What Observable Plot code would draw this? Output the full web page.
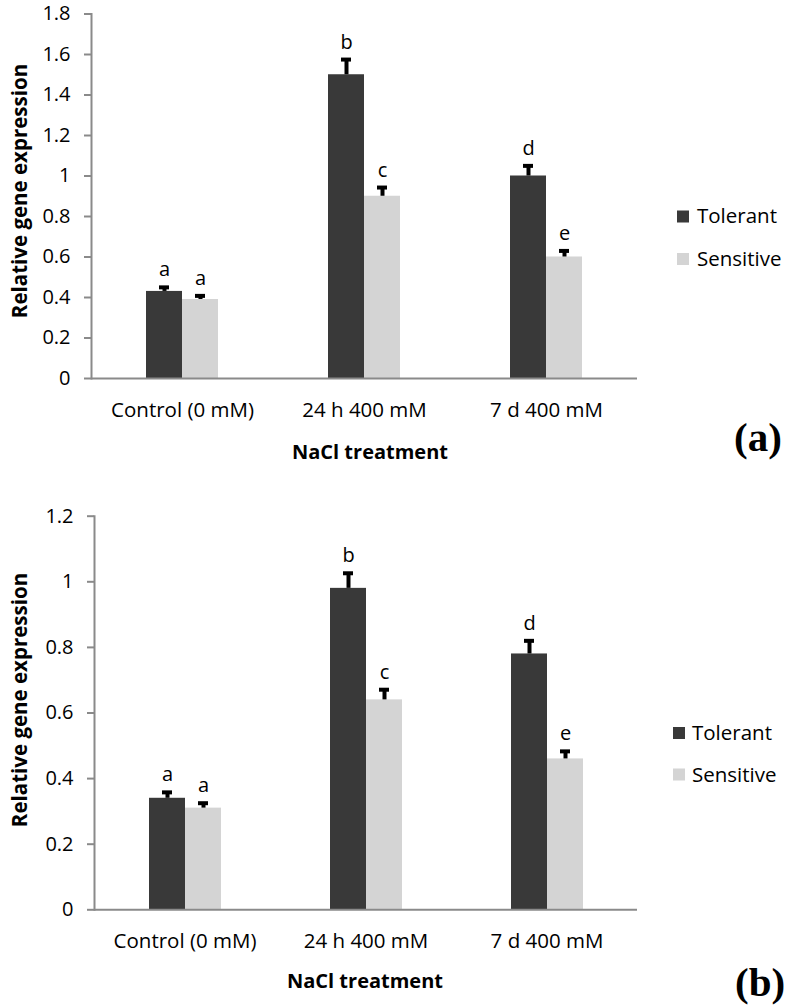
<!DOCTYPE html>
<html><head><meta charset="utf-8">
<script src="https://cdn.jsdelivr.net/npm/d3@7"></script>
<script src="https://cdn.jsdelivr.net/npm/@observablehq/plot@0.6"></script>
<style>
body{margin:0;background:#fff;}
#root{position:relative;width:789px;height:1008px;overflow:hidden;background:#fff;}
#root svg.plot{position:absolute;left:0;}
#overlay{position:absolute;left:0;top:0;pointer-events:none;}
</style></head><body><div id="root"></div>
<script>
// ---- data ----
const categories = ["Control (0 mM)", "24 h 400 mM", "7 d 400 mM"];
const series = ["Tolerant", "Sensitive"];
const colors = ["#393939", "#d4d4d4"];

// panel (a)
const aTolerant = [0.43, 1.50, 1.00];
const aSensitive = [0.39, 0.90, 0.60];
const aTolerantErr = [0.02, 0.075, 0.05];
const aSensitiveErr = [0.018, 0.043, 0.03];
const aTolerantLetters = ["a", "b", "d"];
const aSensitiveLetters = ["a", "c", "e"];
const aYTicks = [0, 0.2, 0.4, 0.6, 0.8, 1, 1.2, 1.4, 1.6, 1.8];

// panel (b)
const bTolerant = [0.34, 0.98, 0.78];
const bSensitive = [0.31, 0.64, 0.46];
const bTolerantErr = [0.018, 0.046, 0.04];
const bSensitiveErr = [0.015, 0.031, 0.023];
const bTolerantLetters = ["a", "b", "d"];
const bSensitiveLetters = ["a", "c", "e"];
const bYTicks = [0, 0.2, 0.4, 0.6, 0.8, 1, 1.2];

const yTitle = "Relative gene expression";
const xTitle = "NaCl treatment";

function rows(tol, sen, tolErr, senErr, tolL, senL) {
  const out = [];
  categories.forEach((c, i) => {
    out.push({category: c, series: series[0], value: tol[i], err: tolErr[i], letter: tolL[i]});
    out.push({category: c, series: series[1], value: sen[i], err: senErr[i], letter: senL[i]});
  });
  return out;
}

const AXIS = "#8a8a8a";
const FONT = "'Open Sans', sans-serif";

function panel(data, ticks, opts) {
  const top = (d) => d.value + d.err;
  const chart = Plot.plot({
    width: 789,
    height: opts.height,
    marginLeft: opts.marginLeft,
    marginRight: opts.marginRight,
    marginTop: opts.marginTop,
    marginBottom: opts.marginBottom,
    style: {fontFamily: FONT, color: "black", background: "white", overflow: "visible"},
    fx: {domain: categories, padding: 0, label: null},
    x: {domain: series, paddingInner: 0, paddingOuter: 1.5, axis: null},
    y: {domain: [ticks[0], ticks[ticks.length - 1]], axis: null},
    color: {domain: series, range: colors},
    marks: [
      Plot.barY(data, {fx: "category", x: "series", y: "value", fill: "series", inset: 0}),
      Plot.ruleX(data, {fx: "category", x: "series", y1: "value", y2: top, stroke: "black", strokeWidth: 4}),
      Plot.tickY(data, {fx: "category", x: "series", y: top, stroke: "black", strokeWidth: 4, insetLeft: 13, insetRight: 13}),
      Plot.text(data, {fx: "category", x: "series", y: top, text: "letter", dy: -11, lineAnchor: "bottom", fontSize: 20, fill: "black"}),
      Plot.ruleY([ticks[0]], {stroke: AXIS, strokeWidth: 2}),
      Plot.frame({anchor: "left", facetAnchor: "left", stroke: AXIS, strokeWidth: 2}),
      Plot.axisY({ticks: ticks, tickSize: 7, tickPadding: 14, stroke: AXIS, strokeWidth: 2, fill: "black", fontSize: 20, label: null, tickFormat: (d) => String(d)}),
      Plot.axisFx({anchor: "bottom", tickSize: 0, tickPadding: 24, fontSize: 20.5, fill: "black", label: null})
    ]
  });
  chart.classList.add("plot");
  chart.style.top = opts.top + "px";
  return chart;
}

const root = document.getElementById("root");
root.appendChild(panel(rows(aTolerant, aSensitive, aTolerantErr, aSensitiveErr, aTolerantLetters, aSensitiveLetters), aYTicks,
  {top: 0, height: 470, marginLeft: 90, marginRight: 152, marginTop: 13.5, marginBottom: 92}));
root.appendChild(panel(rows(bTolerant, bSensitive, bTolerantErr, bSensitiveErr, bTolerantLetters, bSensitiveLetters), bYTicks,
  {top: 500, height: 508, marginLeft: 93, marginRight: 152, marginTop: 15.7, marginBottom: 98.7}));

// overlay: titles, legends, panel letters
const svg = d3.select(root).append("svg").attr("id", "overlay").attr("width", 789).attr("height", 1008)
  .style("font-family", FONT);

function titles(yCenter, yx, xCenter, xBase, tag, tagX, tagBase) {
  svg.append("text").attr("transform", `translate(${yx},${yCenter}) rotate(-90)`)
    .attr("text-anchor", "middle").attr("font-weight", "bold").attr("font-size", 20.5).text(yTitle);
  svg.append("text").attr("x", xCenter).attr("y", xBase).attr("text-anchor", "middle")
    .attr("font-weight", "bold").attr("font-size", 20).text(xTitle);
  svg.append("text").attr("x", tagX).attr("y", tagBase).attr("font-family", "'Liberation Serif', 'Times New Roman', serif")
    .attr("font-weight", "bold").attr("font-size", 41).text(tag);
}
function legend(sx, tx, sy, base, gap) {
  series.forEach((s, i) => {
    svg.append("rect").attr("x", sx).attr("y", sy + i * gap).attr("width", 12).attr("height", 12).attr("fill", colors[i]);
    svg.append("text").attr("x", tx).attr("y", base + i * gap).attr("font-size", 20.5).text(s);
  });
}
titles(191, 27, 370, 459, "(a)", 734, 451);
legend(677, 697, 210.5, 223, 42.5);
titles(700, 27, 365, 988, "(b)", 735, 996);
legend(673, 692, 727, 740, 41.5);
</script></body></html>
